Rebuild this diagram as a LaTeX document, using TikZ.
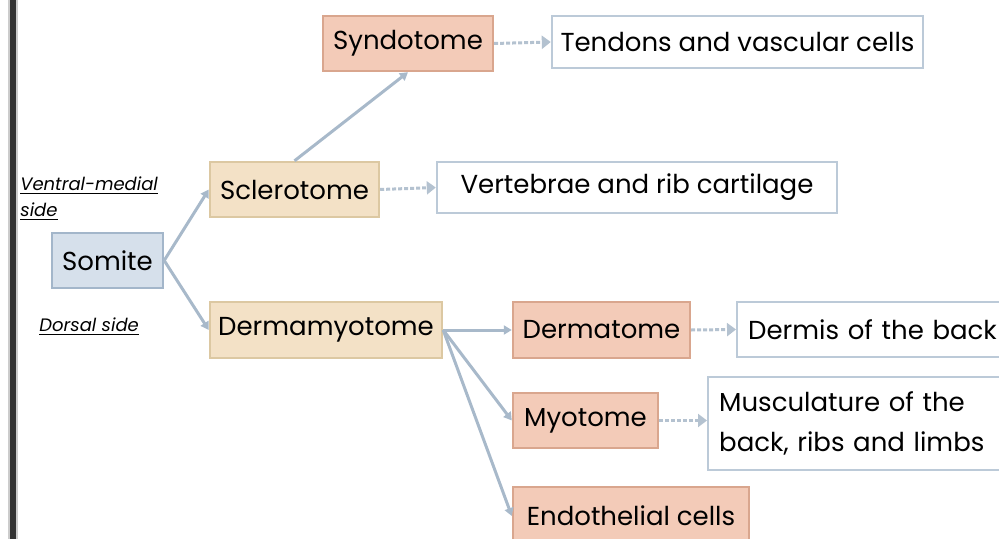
\documentclass[tikz,border=0pt]{standalone}
\usepackage{fontspec}
\setmainfont{Poppins}
\usetikzlibrary{arrows.meta}
\definecolor{salmonfill}{HTML}{F3CBB8}
\definecolor{salmonline}{HTML}{D9A68E}
\definecolor{beigefill}{HTML}{F3E1C6}
\definecolor{beigeline}{HTML}{DCC8A2}
\definecolor{bluefill}{HTML}{D6E0EB}
\definecolor{blueline}{HTML}{A3B6CA}
\definecolor{whiteline}{HTML}{BCCAD8}
\definecolor{linkcol}{HTML}{A8B9CA}
\definecolor{dotcol}{HTML}{B4C2D0}

\begin{document}
\begin{tikzpicture}[x=0.5pt,y=-0.5pt]
          \tikzstyle{every node}+=[inner sep=0pt, font=\fontsize{13}{20}\selectfont]
          \tikzstyle{salmonbox}=[draw=salmonline, fill=salmonfill, line width=1.2pt, minimum height=27.5pt]
          \tikzstyle{beigebox}=[draw=beigeline, fill=beigefill, line width=1.2pt, minimum height=27.5pt]
          \tikzstyle{bluebox}=[draw=blueline, fill=bluefill, line width=1.2pt, minimum height=27.5pt]
          \tikzstyle{whitebox}=[draw=whiteline, fill=white, line width=1.2pt, minimum height=26pt]
          \tikzstyle{sidelabel}=[font=\fontsize{9}{13}\selectfont\itshape, align=left]
          \tikzstyle{link}=[draw=linkcol, line width=1.5pt, -{Triangle[length=4pt,width=4.5pt]}]
          \tikzstyle{dotlink}=[draw=dotcol, line width=1.5pt, dash pattern=on 2pt off 1pt, -{Triangle[length=4.5pt,width=6.5pt,fill=dotcol]}]
          \useasboundingbox (0,0) rectangle (999,539);
          \clip (0,0) rectangle (999,539);
          % left frame bar
          \fill [black!20] (8,0) rectangle (18,539);
          \fill [black!80] (10,0) rectangle (15.5,539);
          % tissue boxes
          \node [bluebox, minimum width=55.5pt] (somite) at (107.5,260.5) {Somite};
          \node [beigebox, minimum width=84.5pt] (sclero) at (294.5,189.5) {Sclerotome};
          \node [beigebox, minimum width=116pt, minimum height=28pt] (dermamyo) at (326,330) {Dermamyotome};
          \node [salmonbox, minimum width=85pt] (syndo) at (408,43.5) {Syndotome};
          \node [salmonbox, minimum width=88.5pt, minimum height=28pt] (dermato) at (601.5,330) {Dermatome};
          \node [salmonbox, minimum width=72.5pt] (myo) at (585.5,420.5) {Myotome};
          \node [salmonbox, minimum width=118pt, minimum height=29pt] (endo) at (631,516) {Endothelial cells};
          % fates
          \node [whitebox, minimum width=185.5pt] (tendons) at (737.5,42) {Tendons and vascular cells};
          \node [whitebox, minimum width=200pt, minimum height=25.5pt] (vertebrae) at (637,187.5) {Vertebrae and rib cartilage};
          \node [whitebox, anchor=west, inner xsep=5.5pt, text width=127pt, minimum height=27.5pt, align=left] (dermis) at (736,329.5) {Dermis of the back};
          \node [whitebox, anchor=west, inner xsep=5.5pt, text width=138pt, minimum height=46.5pt, align=left] (muscle) at (707,423.5) {Musculature of the\\back, ribs and limbs};
          % side labels
          \node [sidelabel, anchor=north west] (ventral) at (20,176) {\underline{Ventral-medial}\\\underline{side}};
          \node [sidelabel, anchor=west] (dorsal) at (39,327) {\underline{Dorsal side}};
          % connectors
          \draw [link] (somite.east) -- (sclero.west);
          \draw [link] (somite.east) -- (dermamyo.west);
          \draw [link] (sclero.north) -- (syndo.south);
          \draw [link] (dermamyo.east) -- (dermato.west);
          \draw [link] (dermamyo.east) -- (myo.west);
          \draw [link] (dermamyo.east) -- (endo.west);
          \draw [dotlink] (syndo.east) -- (tendons.west);
          \draw [dotlink] (sclero.east) -- (vertebrae.west);
          \draw [dotlink] (dermato.east) -- (dermis.west);
          \draw [dotlink] (myo.east) -- (myo.east -| muscle.west);
          \end{tikzpicture}
\end{document}
